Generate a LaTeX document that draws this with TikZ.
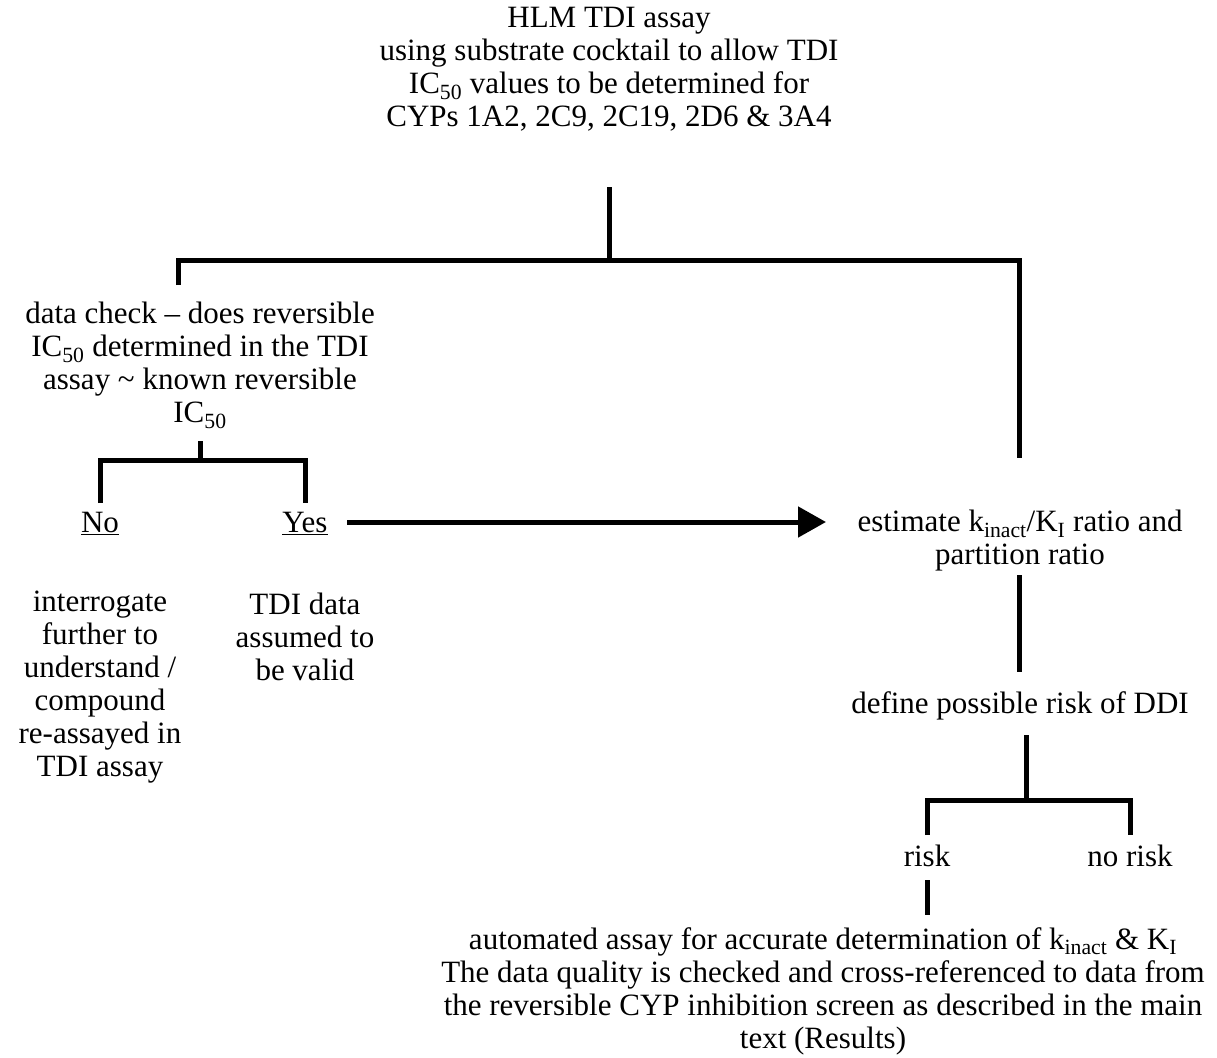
\documentclass[tikz,border=0pt]{standalone}
\usepackage{fontspec}
\setmainfont{Liberation Serif}
\usetikzlibrary{arrows.meta}
\tikzset{
  txt/.style={align=center,inner sep=0pt,font=\fontsize{31}{33}\selectfont},
  bar/.style={line width=5pt,line cap=butt,line join=miter},
}
\begin{document}
\begin{tikzpicture}[x=1pt,y=-1pt]
\useasboundingbox (0,0) rectangle (1217,1057);
% texts
\node[txt] (hlm) at (609,69) {HLM TDI assay\\using substrate cocktail to allow TDI\\IC\textsubscript{50} values to be determined for\\CYPs 1A2, 2C9, 2C19, 2D6 \& 3A4};
\node[txt] (chk) at (200,365) {data check -- does reversible\\IC\textsubscript{50} determined in the TDI\\assay \textasciitilde{} known reversible\\IC\textsubscript{50}};
\node[txt] (no) at (100,523) {\underline{No}};
\node[txt] (yes) at (305,523) {\underline{Yes}};
\node[txt] (inter) at (100,687) {interrogate\\further to\\understand /\\compound\\re-assayed in\\TDI assay};
\node[txt] (valid) at (305,637) {TDI data\\assumed to\\be valid};
\node[txt] (est) at (1020,541) {estimate k\textsubscript{inact}/K\textsubscript{I} ratio and\\partition ratio};
\node[txt] (ddi) at (1020,706) {define possible risk of DDI};
\node[txt] (risk) at (927,856) {risk};
\node[txt] (norisk) at (1130,856) {no risk};
\node[txt] (auto) at (823,991) {automated assay for accurate determination of k\textsubscript{inact} \& K\textsubscript{I}\\The data quality is checked and cross-referenced to data from\\the reversible CYP inhibition screen as described in the main\\text (Results)};
% joints
\coordinate (j1) at (609,260);
\coordinate (j2) at (200,460);
\coordinate (j3) at (1026,800);
% connectors
\draw[bar] (hlm.south |- 0,187) -- (j1);
\draw[bar] (178,285) |- (j1) -| (1019,458);
\draw[bar] (chk.south |- 0,441) -- (j2);
\draw[bar] (no.north |- 0,503) |- (j2) -| (yes.north |- 0,503);
\draw[bar,-{Triangle[length=28pt,width=30pt]}] (347,522) -- (826,522);
\draw[bar] (1019,575) -- (1019,672);
\draw[bar] (1026,735) -- (j3);
\draw[bar] (risk.north |- 0,835) |- (j3) -| (norisk.north |- 0,835);
\draw[bar] (risk.south |- 0,880) -- (risk.south |- 0,915);
\end{tikzpicture}
\end{document}
